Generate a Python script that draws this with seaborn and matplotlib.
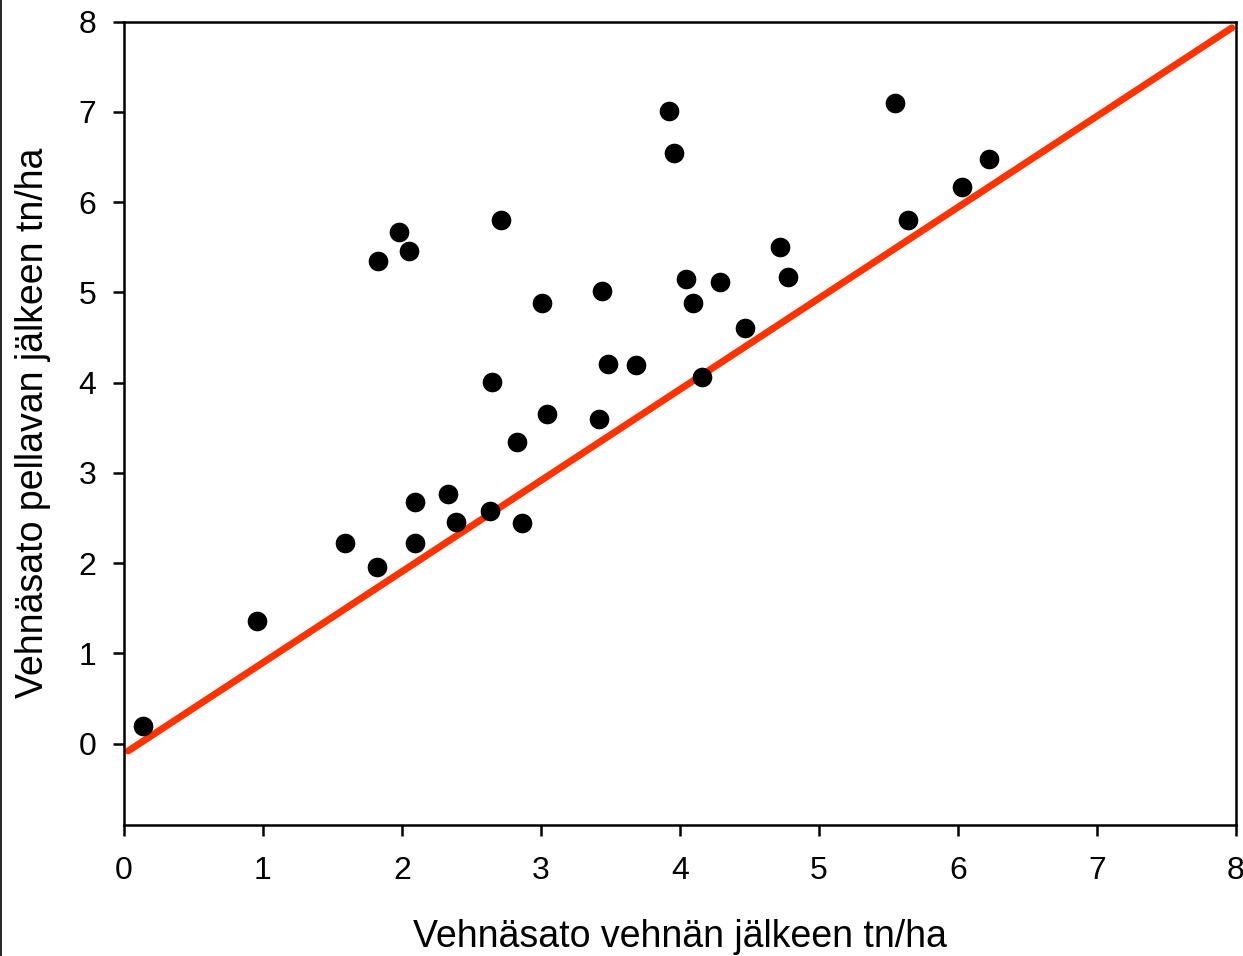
import matplotlib
matplotlib.use("Agg")
import matplotlib.pyplot as plt
import seaborn as sns
import pandas as pd
from matplotlib.lines import Line2D

# yields after wheat (x) vs after flax (y), tn/ha
wheat_after_wheat = [0.14, 0.96, 1.59, 1.82, 1.83, 1.98, 2.05, 2.09, 2.09, 2.33,
                     2.39, 2.63, 2.65, 2.71, 2.83, 2.86, 3.01, 3.04, 3.42, 3.44,
                     3.48, 3.68, 3.92, 3.96, 4.04, 4.09, 4.16, 4.29, 4.47, 4.72,
                     4.78, 5.55, 5.64, 6.03, 6.22]
wheat_after_flax = [0.20, 1.36, 2.22, 1.96, 5.35, 5.67, 5.46, 2.68, 2.22, 2.77,
                    2.46, 2.58, 4.01, 5.80, 3.34, 2.45, 4.88, 3.65, 3.60, 5.02,
                    4.21, 4.19, 7.01, 6.54, 5.15, 4.88, 4.06, 5.11, 4.60, 5.50,
                    5.17, 7.10, 5.80, 6.17, 6.48]

# reference line end points
line_x = [0.03, 7.97]
line_y = [-0.08, 7.93]

df = pd.DataFrame({"x": wheat_after_wheat, "y": wheat_after_flax})

sns.set_style("ticks")
plt.rcParams["font.family"] = ["Liberation Sans", "DejaVu Sans"]
plt.rcParams["text.color"] = "black"
plt.rcParams["axes.labelcolor"] = "black"
plt.rcParams["xtick.color"] = "black"
plt.rcParams["ytick.color"] = "black"
plt.rcParams["axes.edgecolor"] = "black"

fig = plt.figure(figsize=(12.43, 9.56), dpi=100)
ax = fig.add_axes([124 / 1243, 1 - 825 / 956, (1236 - 124) / 1243, (825 - 21.5) / 956])

sns.lineplot(x=line_x, y=line_y, ax=ax, color="#ff3300", linewidth=5, zorder=2)
sns.scatterplot(data=df, x="x", y="y", ax=ax, color="black", s=200,
                edgecolor="black", linewidth=0, zorder=3)

ax.set_xlim(0, 8)
ax.set_ylim(-0.9, 8)
ax.set_xticks(range(0, 9))
ax.set_yticks(range(0, 9))
for s in ax.spines.values():
    s.set_linewidth(1.8)
    s.set_visible(True)
ax.tick_params(direction="out", length=8, width=1.8, labelsize=23, pad=12,
               colors="black")
ax.tick_params(axis="x", pad=14)

ax.set_xlabel("Vehnäsato vehnän jälkeen tn/ha", fontsize=27, labelpad=24)
ax.set_ylabel("Vehnäsato pellavan jälkeen tn/ha", fontsize=27, labelpad=20)

# thin border line at the left edge of the image
fig.add_artist(Line2D([0.001, 0.001], [0, 1], color="black", linewidth=1.2,
                      transform=fig.transFigure))

fig.savefig("out.png", dpi=100)
